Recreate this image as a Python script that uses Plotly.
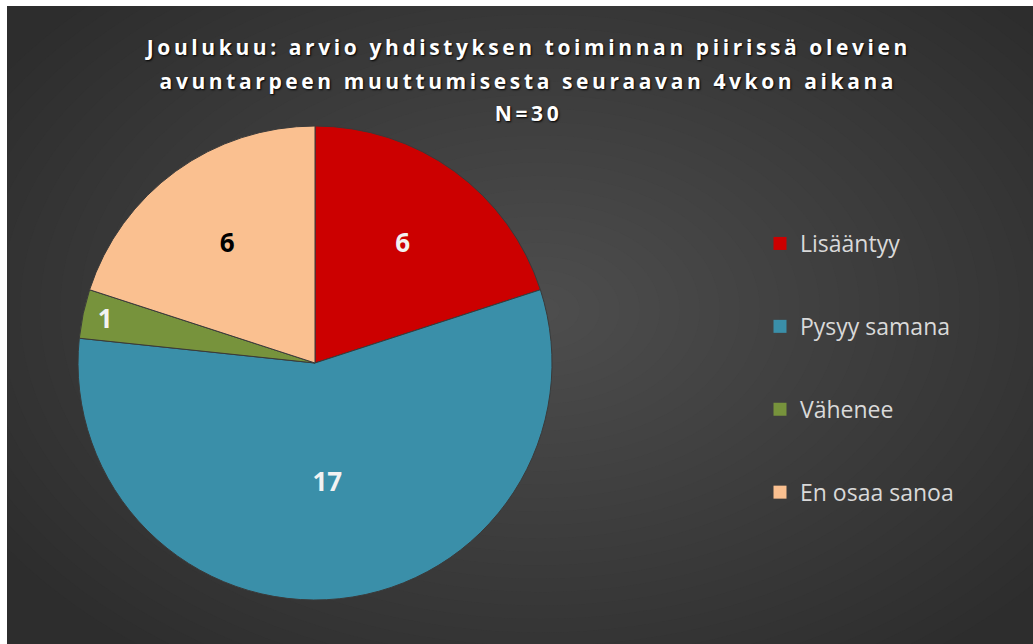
import plotly.graph_objects as go

# ---- data ----
categories = ["Lisääntyy", "Pysyy samana", "Vähenee", "En osaa sanoa"]
values = [6, 17, 1, 6]
colors = ["#CC0000", "#3A8FA9", "#77933C", "#FAC090"]
label_colors = ["#F2F2F2", "#F2F2F2", "#F2F2F2", "#000000"]
title_lines = [
    "Joulukuu: arvio yhdistyksen toiminnan piirissä olevien",
    "avuntarpeen muuttumisesta seuraavan 4vkon aikana",
    "N=30",
]

W, H = 1033, 644

fig = go.Figure()

fig.add_trace(go.Pie(
    labels=categories,
    values=values,
    sort=False,
    direction="clockwise",
    rotation=0,
    marker=dict(colors=colors, line=dict(color="#3a3a3a", width=1)),
    texttemplate="%{value}",
    textposition="inside",
    insidetextorientation="horizontal",
    textfont=dict(family="Open Sans", size=26, color=label_colors, weight="bold"),
    showlegend=False,
    domain=dict(x=[78 / W, 552 / W], y=[1 - 600 / H, 1 - 126 / H]),
    hoverinfo="label+value+percent",
))

# legend entries (one group each so the spacing can match the original)
for i, (c, col) in enumerate(zip(categories, colors)):
    fig.add_trace(go.Scatter(
        x=[None], y=[None], mode="markers", name=c,
        marker=dict(symbol="square", size=13, color=col),
        legendgroup=f"g{i}", showlegend=True,
    ))

shapes = []
# radial background gradient built from opaque concentric ellipses
cx, cy = 540, 310
outer_v, inner_v = 45, 77
n = 32
for k in range(n):
    f = 1 - k / n
    rx = 640 * f
    ry = 430 * f
    v = round(outer_v + (inner_v - outer_v) * (k + 1) / n)
    shapes.append(dict(
        type="circle", xref="paper", yref="paper", layer="below",
        x0=(cx - rx) / W, x1=(cx + rx) / W,
        y0=1 - (cy + ry) / H, y1=1 - (cy - ry) / H,
        fillcolor=f"rgb({v},{v},{v})", line=dict(width=0),
    ))
# white border strips (left and top)
shapes.append(dict(type="rect", xref="paper", yref="paper", layer="below",
                   x0=0, x1=7 / W, y0=0, y1=1, fillcolor="white", line=dict(width=0)))
shapes.append(dict(type="rect", xref="paper", yref="paper", layer="below",
                   x0=0, x1=1, y0=1 - 6 / H, y1=1, fillcolor="white", line=dict(width=0)))

annotations = []
for i, (t, ypx) in enumerate(zip(title_lines, [47, 81, 113])):
    annotations.append(dict(
        text=t, xref="paper", yref="paper", x=528 / W, y=1 - ypx / H,
        xanchor="center", yanchor="middle", showarrow=False,
        font=dict(family="Open Sans", size=21, color="#FFFFFF", weight="bold",
                  shadow="1px 1px 2px #000000"),
    ))

fig.update_layout(
    width=W, height=H,
    margin=dict(l=0, r=0, t=0, b=0),
    paper_bgcolor="rgb(45,45,45)",
    plot_bgcolor="rgba(0,0,0,0)",
    xaxis=dict(visible=False),
    yaxis=dict(visible=False),
    shapes=shapes,
    annotations=annotations,
    legend=dict(
        x=760 / W, y=1 - 222 / H, xanchor="left", yanchor="top",
        bgcolor="rgba(0,0,0,0)", borderwidth=0,
        font=dict(family="Open Sans", size=23, color="#D9D9D9"),
        traceorder="grouped", tracegroupgap=50,
        itemclick=False, itemdoubleclick=False,
    ),
)

post = """
document.body.style.margin = '0px';
document.body.style.overflow = 'hidden';
document.querySelectorAll('.annotation-text').forEach(function (e) {
  e.style.letterSpacing = '3.6px';
});
"""

fig.write_html("out.html", post_script=post, config={"displayModeBar": False})
